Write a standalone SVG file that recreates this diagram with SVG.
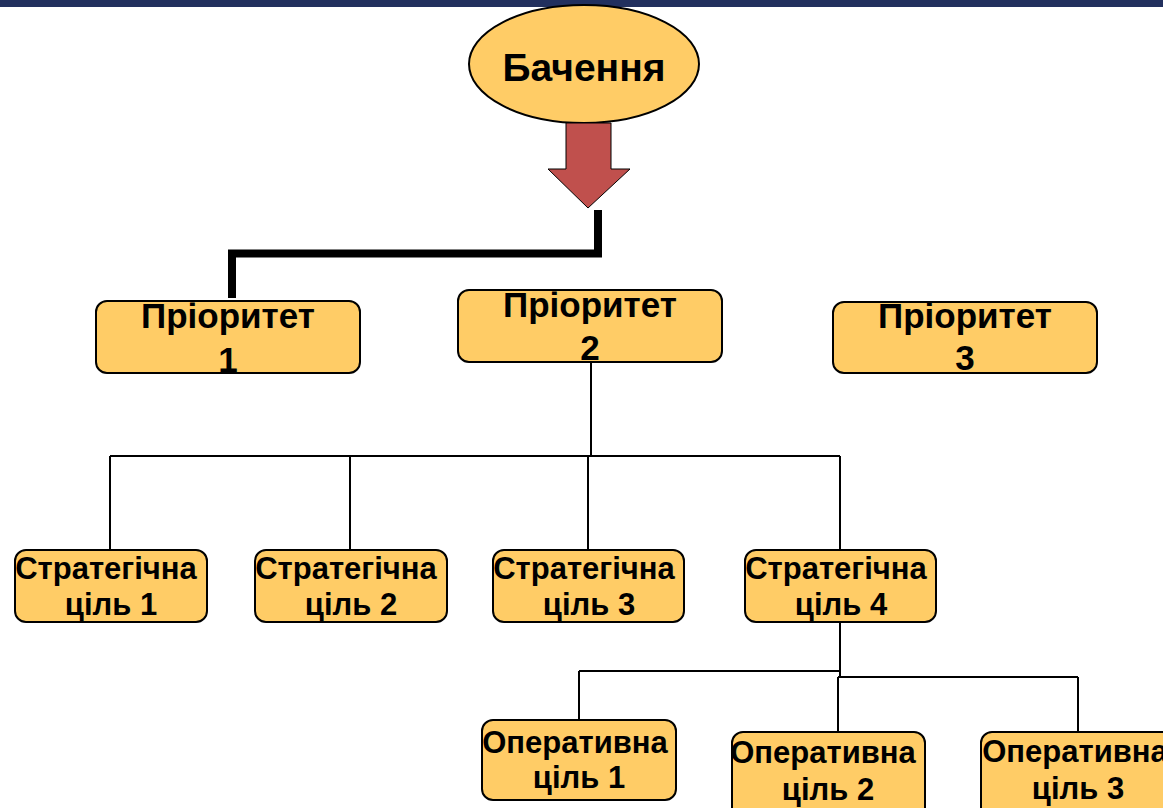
<svg xmlns="http://www.w3.org/2000/svg" width="1163" height="808" viewBox="0 0 1163 808">
<style>
.box{fill:#FFCC66;stroke:#000;stroke-width:2}
.t{font-family:"Liberation Sans",Arial,sans-serif;font-weight:bold;fill:#000;text-anchor:middle}
.p{font-size:35px}
.s{font-size:31px}
.o{font-size:31px}
.c{fill:none;stroke:#000;stroke-width:2}
</style>
<rect x="0" y="0" width="1163" height="7" fill="#22305e"/>
<g id="connectors">
<path d="M598,210 V253.5 H232 V298" fill="none" stroke="#000" stroke-width="8"/>
<path class="c" d="M591,362 V456 M110,456 H840 M110,456 V550 M350,456 V550 M588,456 V550 M840,456 V550"/>
<path class="c" d="M840,622 V677 M579,671 H840 M579,671 V720 M838,677 H1078 M838,677 V732 M1078,677 V732"/>
</g>
<g id="vision">
<ellipse cx="584" cy="64" rx="115" ry="59" class="box"/>
<text class="t" x="584" y="81" font-size="39">Бачення</text>
</g>
<g id="arrow">
<path d="M566,123 H611 V169 H630 L588,208 L548,169 H566 Z" fill="#C0504D" stroke="#000" stroke-width="1"/>
</g>
<g id="priority1">
<rect class="box" x="96" y="301" width="264" height="72" rx="11"/>
<text class="t p" x="228" y="328">Пріоритет</text>
<text class="t p" x="228" y="372">1</text>
</g>
<g id="priority2">
<rect class="box" x="458" y="290" width="264" height="72" rx="11"/>
<text class="t p" x="590" y="317">Пріоритет</text>
<text class="t p" x="590" y="360">2</text>
</g>
<g id="priority3">
<rect class="box" x="833" y="302" width="264" height="71" rx="11"/>
<text class="t p" x="965" y="328">Пріоритет</text>
<text class="t p" x="965" y="370">3</text>
</g>
<g id="strategic1">
<rect class="box" x="15" y="550" width="192" height="72" rx="11"/>
<text class="t s" x="106" y="579">Стратегічна</text>
<text class="t s" x="111" y="615">ціль 1</text>
</g>
<g id="strategic2">
<rect class="box" x="255" y="550" width="192" height="72" rx="11"/>
<text class="t s" x="346" y="579">Стратегічна</text>
<text class="t s" x="351" y="615">ціль 2</text>
</g>
<g id="strategic3">
<rect class="box" x="493" y="550" width="191" height="72" rx="11"/>
<text class="t s" x="584" y="579">Стратегічна</text>
<text class="t s" x="589" y="615">ціль 3</text>
</g>
<g id="strategic4">
<rect class="box" x="745" y="550" width="191" height="72" rx="11"/>
<text class="t s" x="836" y="579">Стратегічна</text>
<text class="t s" x="841" y="615">ціль 4</text>
</g>
<g id="operational1">
<rect class="box" x="482" y="720" width="194" height="80" rx="11"/>
<text class="t o" x="575" y="753">Оперативна</text>
<text class="t o" x="579" y="788">ціль 1</text>
</g>
<g id="operational2">
<rect class="box" x="732" y="732" width="193" height="90" rx="11"/>
<text class="t o" x="823" y="763">Оперативна</text>
<text class="t o" x="828" y="800">ціль 2</text>
</g>
<g id="operational3">
<rect class="box" x="981" y="732" width="194" height="90" rx="11"/>
<text class="t o" x="1075" y="762">Оперативна</text>
<text class="t o" x="1078" y="799">ціль 3</text>
</g>
</svg>
